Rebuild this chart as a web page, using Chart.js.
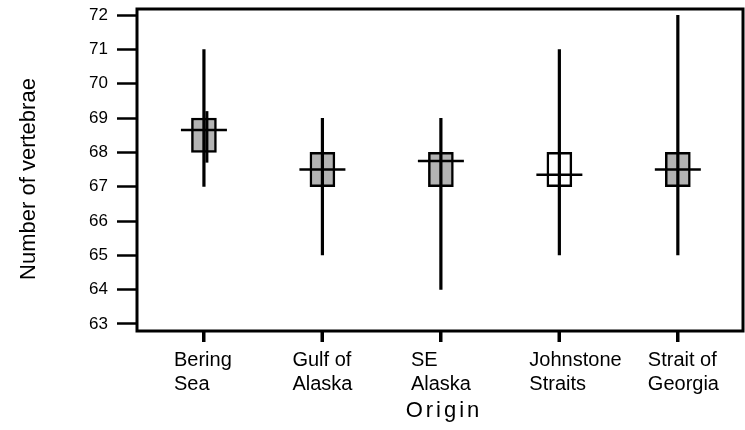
<!DOCTYPE html>
<html><head><meta charset="utf-8">
<script src="https://cdn.jsdelivr.net/npm/chart.js@4"></script>
<style>html,body{margin:0;padding:0;background:#fff}canvas{display:block}</style>
</head><body>
<canvas id="c" width="745" height="430"></canvas>
<script>
// origins (two-line labels), whisker ends, box quartiles, medians
const origins=[['Bering','Sea'],['Gulf of','Alaska'],['SE','Alaska'],['Johnstone','Straits'],['Strait of','Georgia']];
const lowV=[67,65,64,65,65];
const highV=[71,69,69,71,72];
const q1=[68,67,67,67,67];
const q3=[69,68,68,68,68];
const med=[68.65,67.5,67.75,67.35,67.5];
const beringCI=[67.7,69.2];
const yTicks=[63,64,65,66,67,68,69,70,71,72];

const FONT='"Liberation Sans", Arial, sans-serif';
const pos=origins.map((o,i)=>i+1);
const whisk=[];
pos.forEach((x,i)=>{whisk.push({x,y:lowV[i]},{x,y:highV[i]},{x,y:null});});

const frame={id:'frame',afterDraw(c){
  const {ctx,chartArea:a}=c;
  const xs=c.scales.x;
  ctx.save();
  ctx.strokeStyle='#000';ctx.lineWidth=3;
  ctx.strokeRect(a.left,a.top,a.right-a.left,a.bottom-a.top);
  ctx.beginPath();
  pos.forEach(v=>{const px=Math.round(xs.getPixelForValue(v));ctx.moveTo(px,a.bottom);ctx.lineTo(px,a.bottom+11);});
  ctx.stroke();
  ctx.fillStyle='#000';ctx.textAlign='center';ctx.textBaseline='middle';
  ctx.font='22px '+FONT;
  ctx.save();ctx.translate(29,(a.top+a.bottom)/2+9);ctx.rotate(-Math.PI/2);
  ctx.fillText('Number of vertebrae',0,0);ctx.restore();
  ctx.letterSpacing='3px';
  ctx.fillText('Origin',(a.left+a.right)/2+4,411);
  ctx.restore();
}};
const noPad=s=>{s.paddingTop=0;s.paddingBottom=0;s.paddingLeft=0;s.paddingRight=0;};

new Chart(document.getElementById('c'),{
  type:'bar',
  data:{datasets:[
    {type:'bar',data:pos.map((x,i)=>({x,y:[q1[i],q3[i]]})),barThickness:25,borderWidth:2.5,borderSkipped:false,borderColor:'#000',
     backgroundColor:c=>c.dataIndex===3?'#ffffff':'#b3b3b3',order:3},
    {type:'line',data:whisk,borderColor:'#000',borderWidth:3.2,pointRadius:0,spanGaps:false,order:2},
    {type:'line',data:[{x:pos[0]+0.025,y:beringCI[0]},{x:pos[0]+0.025,y:beringCI[1]}],borderColor:'#000',borderWidth:3,pointRadius:0,order:2},
    {type:'line',data:pos.map((x,i)=>({x,y:med[i]})),showLine:false,pointStyle:'line',pointRadius:23,pointBorderWidth:2.5,pointBorderColor:'#000',order:1}
  ]},
  options:{
    responsive:false,animation:false,events:[],
    layout:{autoPadding:false,padding:{top:9,right:2,left:0,bottom:0}},
    plugins:{legend:{display:false},tooltip:{enabled:false}},
    scales:{
      x:{type:'linear',min:0.435,max:5.55,offset:false,
        afterBuildTicks:s=>{s.ticks=pos.map(v=>({value:v}));},
        afterFit:s=>{s.height=99;noPad(s);},
        grid:{offset:false,drawOnChartArea:false,tickLength:11,tickWidth:3,tickColor:'#000'},
        border:{display:false},
        ticks:{align:'start',labelOffset:-30,padding:6,color:'#000',autoSkip:false,maxRotation:0,
          font:{family:FONT,size:20,lineHeight:1.2},callback:v=>origins[v-1]}},
      y:{min:62.796,max:72.175,
        afterBuildTicks:s=>{s.ticks=yTicks.map(v=>({value:v}));},
        afterFit:s=>{s.width=137;noPad(s);},
        grid:{drawOnChartArea:false,tickLength:20,tickWidth:2.5,tickColor:'#000'},
        border:{display:false},
        ticks:{padding:9,color:'#000',font:{family:FONT,size:17}}}
    }
  },
  plugins:[frame]
});
</script>
</body></html>
